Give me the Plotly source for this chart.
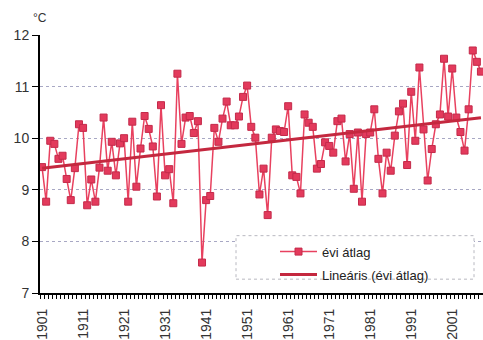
import numpy as np
import plotly.graph_objects as go

# Annual mean temperature (°C), 1901-2008
years = list(range(1901, 2009))
evi_atlag = [
    9.44, 8.77, 9.95, 9.89, 9.60, 9.66, 9.21, 8.80, 9.42, 10.27,   # 1901-1910
    10.20, 8.70, 9.20, 8.77, 9.43, 10.40, 9.37, 9.93, 9.28, 9.90,  # 1911-1920
    10.00, 8.77, 10.32, 9.06, 9.80, 10.43, 10.18, 9.84, 8.87, 10.64,  # 1921-1930
    9.28, 9.40, 8.74, 11.25, 9.89, 10.40, 10.43, 10.10, 10.33, 7.59,  # 1931-1940
    8.80, 8.88, 10.20, 9.93, 10.38, 10.71, 10.25, 10.25, 10.42, 10.80,  # 1941-1950
    11.02, 10.22, 10.01, 8.91, 9.41, 8.51, 10.01, 10.17, 10.14, 10.12,  # 1951-1960
    10.62, 9.28, 9.25, 8.93, 10.46, 10.30, 10.22, 9.41, 9.50, 9.92,  # 1961-1970
    9.85, 9.72, 10.33, 10.38, 9.55, 10.08, 9.02, 10.11, 8.77, 10.08,  # 1971-1980
    10.11, 10.56, 9.60, 8.93, 9.72, 9.37, 10.05, 10.52, 10.67, 9.48,  # 1981-1990
    10.90, 9.95, 11.37, 10.17, 9.18, 9.79, 10.27, 10.46, 11.54, 10.42,  # 1991-2000
    11.35, 10.40, 10.12, 9.76, 10.56, 11.70, 11.48, 11.29,  # 2001-2008
]

y_ticks = [7, 8, 9, 10, 11, 12]

# Least-squares linear trend of the annual means
slope, intercept = np.polyfit(years, evi_atlag, 1)
trend = [slope * y + intercept for y in years]

FONT = "Arial, Liberation Sans, sans-serif"

fig = go.Figure()

fig.add_trace(go.Scatter(
    x=years, y=evi_atlag, name="évi átlag", mode="lines+markers",
    line=dict(color="#e8415f", width=1.5),
    marker=dict(symbol="square", size=7, color="#e33a5c",
                line=dict(color="#c42a4a", width=1)),
    legendgroup="a",
))
fig.add_trace(go.Scatter(
    x=years, y=trend, name="Lineáris (évi átlag)", mode="lines",
    line=dict(color="#c4283f", width=3),
    legendgroup="b",
))

# Legend frame
fig.add_shape(type="rect", xref="paper", yref="paper",
              x0=(236 - 40) / 443, x1=(474 - 40) / 443,
              y0=(296 - 282) / 261, y1=(296 - 238) / 261,
              line=dict(color="#b8b8c0", width=1, dash="dot"),
              fillcolor="white", layer="above")

fig.add_annotation(text="°C", xref="paper", yref="paper",
                   x=0, y=1, xanchor="center", yanchor="bottom", yshift=8,
                   showarrow=False, font=dict(family=FONT, size=12, color="#333"))

fig.update_layout(
    width=483, height=340,
    margin=dict(l=40, r=0, t=35, b=44),
    paper_bgcolor="white", plot_bgcolor="white",
    font=dict(family=FONT, color="#333"),
    showlegend=True,
    legend=dict(
        x=(275 - 40) / 443, xanchor="left",
        y=(296 - 239) / 261, yanchor="top",
        bgcolor="rgba(0,0,0,0)", borderwidth=0,
        font=dict(family=FONT, size=13, color="#222"),
        itemwidth=37, traceorder="grouped", tracegroupgap=3,
    ),
    xaxis=dict(
        range=[1900.5, 2008.5], tick0=1901, dtick=10,
        tickangle=-90, ticks="", ticklabelstandoff=8,
        tickfont=dict(family=FONT, size=14, color="#333"),
        showline=True, linecolor="black", linewidth=2,
        showgrid=False, zeroline=False,
        minor=dict(tick0=1900.5, dtick=1, ticks="outside", ticklen=4,
                   tickcolor="black", tickwidth=1, showgrid=False),
    ),
    yaxis=dict(
        range=[7, 12], tickvals=y_ticks,
        ticks="outside", ticklen=6, tickcolor="black", tickwidth=1,
        tickfont=dict(family=FONT, size=14, color="#333"),
        showline=True, linecolor="black", linewidth=2,
        showgrid=True, gridcolor="#a8a8c4", griddash="dot", gridwidth=1,
        zeroline=False,
    ),
)

fig.write_html("out.html")
